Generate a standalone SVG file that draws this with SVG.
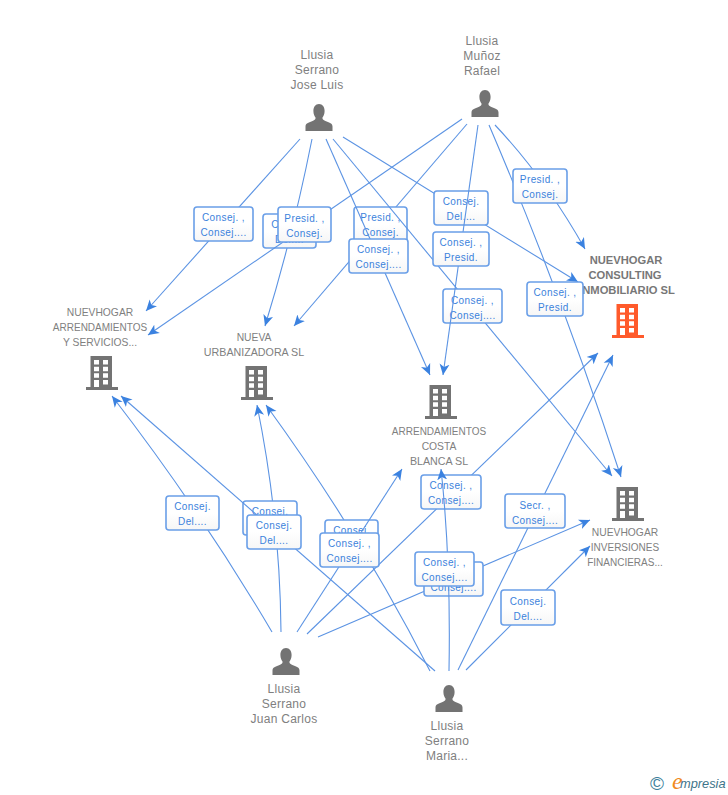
<svg xmlns="http://www.w3.org/2000/svg" width="728" height="795" viewBox="0 0 728 795">
<style>
text{font-family:"Liberation Sans",Arial,sans-serif}
.e{fill:none;stroke:#5b93e3;stroke-width:1.1;marker-end:url(#a)}
.b{fill:url(#g);stroke:#6a9fe8;stroke-width:1.6}
.l{font-size:10px;fill:#3b82dc;text-anchor:middle;letter-spacing:.4px;transform:translateY(.6px)}
.n{font-size:10.3px;fill:#808080;text-anchor:middle}
.w{font-size:10px}
.u{font-size:10.7px}
.p{font-size:12px;fill:#808080;text-anchor:middle;letter-spacing:.25px}
.c{font-size:11.2px;fill:#777;text-anchor:middle;font-weight:bold}
.i{fill:#737373}
</style>
<defs>
<linearGradient id="g" x1="0" y1="0" x2="0" y2="1"><stop offset="0" stop-color="#fff"/><stop offset=".5" stop-color="#fff"/><stop offset="1" stop-color="#f6f6f6"/></linearGradient>
<marker id="a" markerUnits="userSpaceOnUse" markerWidth="13" markerHeight="12" refX="11" refY="5.500" orient="auto"><path d="M11,5.500 L0,0.500 L3,5.500 L0,10.500 Z" fill="#3b82e0"/></marker>
<path id="bld" fill-rule="evenodd" d="M4.500,0H26V31H32V34H0V31H4.500ZM8,4V8.500H13V4ZM17,4V8.500H22V4ZM8,10.700V15.200H13V10.700ZM17,10.700V15.200H22V10.700ZM8,17.300V21.800H13V17.300ZM17,17.300V21.800H22V17.300ZM8,24V31H13V24ZM17,24V28.500H22V24Z"/>
<path id="per" d="M0,0C3.600,0 5.600,3 5.600,7C5.600,10 4.400,12.400 3.400,13.800C3.400,15.600 4.600,16.400 7,17.300C10.500,18.600 13.500,19.600 13.500,22.500V27H-13.500V22.500C-13.500,19.600 -10.500,18.600 -7,17.300C-4.600,16.400 -3.400,15.600 -3.400,13.800C-4.400,12.400 -5.600,10 -5.600,7C-5.600,3 -3.600,0 0,0Z"/>
</defs>
<rect width="728" height="795" fill="#fff"/>
<g id="consulting"><use href="#bld" x="612" y="304" fill="#ff5a2b"/><text class="c" x="626" y="264">NUEVHOGAR</text><text class="c" x="625" y="279">CONSULTING</text><text class="c" x="627" y="294">INMOBILIARIO SL</text></g>
<g id="connectors">
<path class="e" d="M300,139L146,311"/>
<rect class="b" x="194" y="207" width="59" height="34" rx="3"/><text class="l" x="223.500" y="220">Consej. ,</text><text class="l" x="223.500" y="235">Consej....</text>
<path class="e" d="M312,139Q293,235 265,326"/>
<rect class="b" x="263" y="214" width="53" height="34" rx="3"/><text class="l" x="289.500" y="227">Consej.</text><text class="l" x="289.500" y="242">Del....</text>
<path class="e" d="M462,119L148,335"/>
<rect class="b" x="278" y="207" width="53" height="35" rx="3"/><text class="l" x="304.500" y="221">Presid. ,</text><text class="l" x="304.500" y="236">Consej.</text>
<path class="e" d="M467,124L294,326"/>
<rect class="b" x="354" y="207" width="53" height="35" rx="3"/><text class="l" x="380.500" y="220">Presid. ,</text><text class="l" x="380.500" y="235">Consej.</text>
<path class="e" d="M326,139L430,375"/>
<rect class="b" x="349" y="239" width="59" height="34" rx="3"/><text class="l" x="378.500" y="252">Consej. ,</text><text class="l" x="378.500" y="267">Consej....</text>
<path class="e" d="M343,137L578,282"/>
<rect class="b" x="434" y="191" width="54" height="34" rx="3"/><text class="l" x="461" y="204">Consej.</text><text class="l" x="461" y="219">Del....</text>
<path class="e" d="M333,139L612,476"/>
<rect class="b" x="443" y="289" width="59" height="34" rx="3"/><text class="l" x="472.500" y="303">Consej. ,</text><text class="l" x="472.500" y="318">Consej....</text>
<path class="e" d="M478,125L443,375"/>
<rect class="b" x="433" y="232" width="56" height="34" rx="3"/><text class="l" x="461" y="245">Consej. ,</text><text class="l" x="461" y="260">Presid.</text>
<path class="e" d="M489,125Q563,298 621,477"/>
<rect class="b" x="527" y="282" width="56" height="34" rx="3"/><text class="l" x="555" y="295">Consej. ,</text><text class="l" x="555" y="310">Presid.</text>
<path class="e" d="M495,125Q545,178 585,249"/>
<rect class="b" x="513" y="169" width="54" height="34" rx="3"/><text class="l" x="540" y="182">Presid. ,</text><text class="l" x="540" y="197">Consej.</text>
<path class="e" d="M272,632Q200,510 112,396"/>
<rect class="b" x="166" y="496" width="53" height="34" rx="3"/><text class="l" x="192.500" y="509">Consej.</text><text class="l" x="192.500" y="524">Del....</text>
<path class="e" d="M281,632Q280,518 257,405"/>
<rect class="b" x="243" y="501" width="54" height="34" rx="3"/><text class="l" x="270" y="514">Consej.</text><text class="l" x="270" y="529">Del....</text>
<path class="e" d="M435,671L121,396"/>
<rect class="b" x="247" y="515" width="54" height="34" rx="3"/><text class="l" x="274" y="528">Consej.</text><text class="l" x="274" y="543">Del....</text>
<path class="e" d="M430,671Q362,537 266,405"/>
<rect class="b" x="325" y="520" width="53" height="34" rx="3"/><text class="l" x="351.500" y="533">Consej.</text><text class="l" x="351.500" y="548">Del....</text>
<path class="e" d="M307,634L598,353"/>
<rect class="b" x="421" y="475" width="60" height="34" rx="3"/><text class="l" x="451" y="488">Consej. ,</text><text class="l" x="451" y="503">Consej....</text>
<path class="e" d="M297,632L402,469"/>
<rect class="b" x="320" y="533" width="59" height="34" rx="3"/><text class="l" x="349.500" y="546">Consej. ,</text><text class="l" x="349.500" y="561">Consej....</text>
<path class="e" d="M318,637L590,520"/>
<rect class="b" x="424" y="562" width="59" height="34" rx="3"/><text class="l" x="453.500" y="575">Consej. ,</text><text class="l" x="453.500" y="590">Consej....</text>
<path class="e" d="M449,671Q451,560 441,469"/>
<rect class="b" x="415" y="552" width="59" height="34" rx="3"/><text class="l" x="444.500" y="565">Consej. ,</text><text class="l" x="444.500" y="580">Consej....</text>
<path class="e" d="M466,670L590,546"/>
<rect class="b" x="501" y="590" width="54" height="35" rx="3"/><text class="l" x="528" y="604">Consej.</text><text class="l" x="528" y="619">Del....</text>
<path class="e" d="M458,670L613,355"/>
<rect class="b" x="505" y="494" width="60" height="34" rx="3"/><text class="l" x="535" y="508">Secr. ,</text><text class="l" x="535" y="523">Consej....</text>
</g>
<g id="jose-luis"><use href="#per" x="319" y="104" class="i"/><text class="p" x="317" y="59">Llusia</text><text class="p" x="317" y="74">Serrano</text><text class="p" x="317" y="89">Jose Luis</text></g>
<g id="rafael"><use href="#per" x="485" y="90" class="i"/><text class="p" x="482" y="45">Llusia</text><text class="p" x="482" y="60">Muñoz</text><text class="p" x="482" y="75">Rafael</text></g>
<g id="juan-carlos"><use href="#per" x="286" y="648" class="i"/><text class="p" x="284" y="693">Llusia</text><text class="p" x="284" y="708">Serrano</text><text class="p" x="284" y="723">Juan Carlos</text></g>
<g id="maria"><use href="#per" x="449" y="685" class="i"/><text class="p" x="447" y="730">Llusia</text><text class="p" x="447" y="745">Serrano</text><text class="p" x="447" y="760">Maria...</text></g>
<g id="arrend-servicios"><use href="#bld" x="86" y="356" class="i"/><text class="n" x="100" y="316">NUEVHOGAR</text><text class="n w" x="100" y="331">ARRENDAMIENTOS</text><text class="n" x="100" y="346">Y SERVICIOS...</text></g>
<g id="nueva-urbanizadora"><use href="#bld" x="241" y="366" class="i"/><text class="n" x="254" y="341">NUEVA</text><text class="n u" x="254" y="356">URBANIZADORA SL</text></g>
<g id="arrendamientos-costa"><use href="#bld" x="425" y="385" class="i"/><text class="n w" x="439" y="435">ARRENDAMIENTOS</text><text class="n" x="439" y="450">COSTA</text><text class="n u" x="439" y="465">BLANCA SL</text></g>
<g id="inversiones"><use href="#bld" x="612" y="487" class="i"/><text class="n" x="625" y="536">NUEVHOGAR</text><text class="n w" x="625" y="551">INVERSIONES</text><text class="n w" x="625" y="566">FINANCIERAS...</text></g>
<g id="logo"><text x="650" y="790" font-size="19" fill="#3d7f9c">©</text><text x="672" y="789" font-size="24" font-style="italic" fill="#f08a1d" style="font-family:'Liberation Serif',serif">e</text><text x="680" y="788" font-size="12.800" font-style="italic" fill="#3d7489">mpresia</text></g>
</svg>
